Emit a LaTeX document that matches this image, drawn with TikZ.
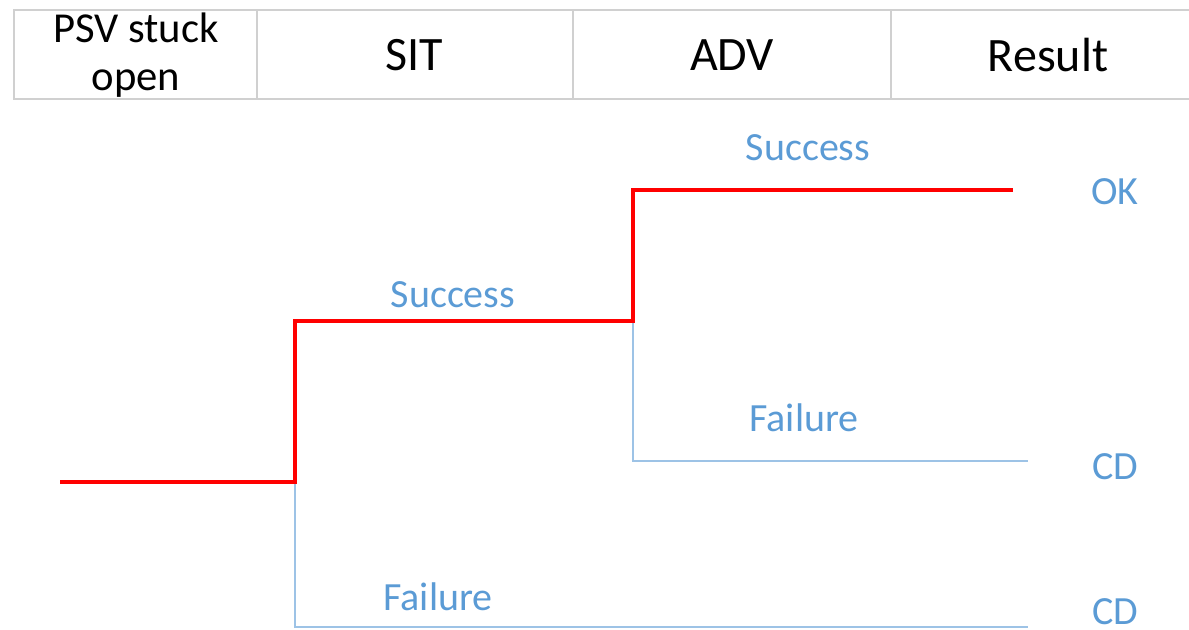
\documentclass[tikz,border=0pt]{standalone}
\usepackage{fontspec}
\setmainfont{Carlito}
\definecolor{gridgray}{HTML}{D0D0D0}
\definecolor{branchblue}{HTML}{9DC3E6}
\definecolor{labelblue}{HTML}{5B9BD5}
\definecolor{pathred}{HTML}{FF0000}
\tikzset{
  headtxt/.style={font=\fontsize{36}{38}\selectfont, text=black, align=center, inner sep=0pt},
  brlabel/.style={font=\fontsize{30}{32}\selectfont, text=labelblue, inner sep=0pt},
  gridline/.style={draw=gridgray, line width=1.5pt},
  branch/.style={draw=branchblue, line width=1.8pt},
  critpath/.style={draw=pathred, line width=3pt, line join=miter},
}
\begin{document}
\begin{tikzpicture}[x=0.75pt, y=-0.75pt]
\useasboundingbox (0,0) rectangle (1189,630);

% header grid
\draw[gridline] (1189,10) -- (14,10) -- (14,99) -- (1189,99);
\draw[gridline] (257,10) -- (257,99);
\draw[gridline] (573,10) -- (573,99);
\draw[gridline] (891,10) -- (891,99);

\node[headtxt, font=\fontsize{32}{36}\selectfont] (hpsv) at (136,55) {PSV stuck\\open};
\node[headtxt] (hsit) at (414,55) {SIT};
\node[headtxt] (hadv) at (732,55) {ADV};
\node[headtxt] (hres) at (1048,55) {Result};

% branch points
\coordinate (init) at (60,482);
\coordinate (sitA) at (295,482);
\coordinate (sitS) at (295,321);
\coordinate (sitF) at (295,627);
\coordinate (advA) at (633,321);
\coordinate (advS) at (633,190);
\coordinate (advF) at (633,461);
\coordinate (endOK) at (1013,190);
\coordinate (endCD1) at (1028,461);
\coordinate (endCD2) at (1028,627);

% failure branches
\draw[branch] (sitA) -- (sitF) -- (endCD2);
\draw[branch] (advA) -- (advF) -- (endCD1);

% success path
\draw[critpath] (init) -- (sitA) -- (sitS) -- (advA) -- (advS) -- (endOK);

% labels
\node[brlabel] (lsitS) at (453,295) {Success};
\node[brlabel] (lsitF) at (438,597) {Failure};
\node[brlabel] (ladvS) at (808,148) {Success};
\node[brlabel] (ladvF) at (804,418) {Failure};
\node[brlabel] (rok) at (1115,192) {OK};
\node[brlabel] (rcd1) at (1115,467) {CD};
\node[brlabel] (rcd2) at (1115,612) {CD};
\end{tikzpicture}
\end{document}
